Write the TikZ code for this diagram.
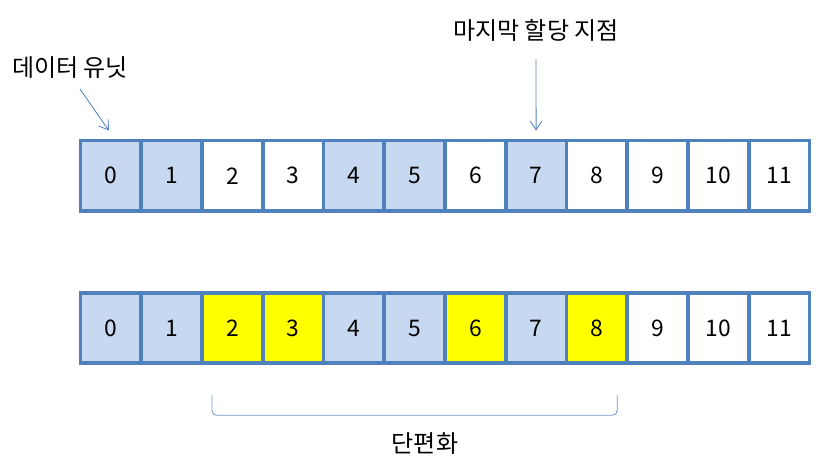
\documentclass[tikz,border=0pt]{standalone}
\usepackage{fontspec}
\setmainfont{Noto Sans CJK KR}
\usepackage{tikz}
\usetikzlibrary{arrows.meta, calc}
\definecolor{cellborder}{RGB}{79, 129, 189}
\definecolor{usedblue}{RGB}{198, 217, 240}
\definecolor{fragyellow}{RGB}{255, 255, 0}
\definecolor{bracketblue}{RGB}{110, 150, 205}

\begin{document}
\begin{tikzpicture}[
    x=0.03cm, y=-0.03cm,
    cell/.style={rectangle, draw=cellborder, line width=3.2pt, minimum width=1.8225cm, minimum height=2.115cm, inner sep=0pt, outer sep=0pt, font=\fontsize{19.5pt}{21pt}\selectfont},
    used/.style={cell, fill=usedblue},
    frag/.style={cell, fill=fragyellow},
    free/.style={cell, fill=white},
    note/.style={inner sep=0pt, font=\fontsize{20.5pt}{22pt}\selectfont},
    ptr/.style={-{Straight Barb[length=7.5pt, width=10pt]}, line width=0.7pt, cellborder},
    bracket/.style={line width=0.7pt, bracketblue, rounded corners=4pt}
]
\useasboundingbox (0,0) rectangle (833,466);

% Top row
\foreach \i/\s in {0/used, 1/used, 2/free, 3/free, 4/used, 5/used, 6/free, 7/used, 8/free, 9/free, 10/free, 11/free}
    \node[\s] (t\i) at ({80.5+60.75*(\i+0.5)}, 175.75) {\i};

% Bottom row
\foreach \i/\s in {0/used, 1/used, 2/frag, 3/frag, 4/used, 5/used, 6/frag, 7/used, 8/frag, 9/free, 10/free, 11/free}
    \node[\s] (b\i) at ({80.5+60.75*(\i+0.5)}, 328) {\i};

% Labels
\node[note] (unit) at (70,68) {데이터 유닛};
\node[note] (last) at (536,30) {마지막 할당 지점};
\node[note] (frag) at (425,443) {단편화};

% Arrows
\draw[ptr] ($(unit.south)+(10,10)$) -- ($(t0.north)+(-2,-10)$);
\draw[ptr] ($(last.south)+(0,18)$) -- ($(t7.north)+(0,-10)$);

% Bracket
\draw[bracket] ($(b2.south west)+(10,32)$) -- ($(b2.south west)+(10,52)$) -- ($(b8.south east)+(-10,52)$) -- ($(b8.south east)+(-10,32)$);
\end{tikzpicture}
\end{document}
